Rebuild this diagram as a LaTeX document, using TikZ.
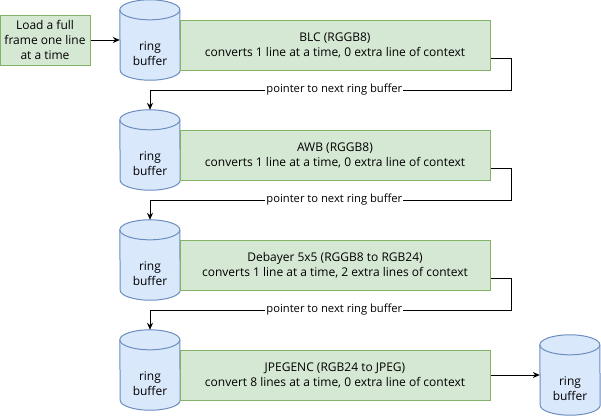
\documentclass[tikz,border=0pt]{standalone}
\usepackage{fontspec}
\setmainfont{Open Sans}
\usetikzlibrary{arrows.meta, calc}

\definecolor{stagefill}{HTML}{D5E8D4}
\definecolor{stageline}{HTML}{82B366}
\definecolor{buffill}{HTML}{DAE8FC}
\definecolor{bufline}{HTML}{6C8EBF}

\tikzset{
  stage/.style={draw=stageline, fill=stagefill, line width=1pt, align=center,
    minimum width=310pt, minimum height=50pt, inner sep=0pt,
    font=\fontsize{12}{15}\selectfont},
  ringbox/.style={rectangle, minimum width=60pt, minimum height=80pt, inner sep=0pt},
  bufshape/.style={draw=bufline, fill=buffill, line width=1pt},
  buftext/.style={align=center, inner sep=0pt, font=\fontsize{12}{15}\selectfont},
  link/.style={-{Stealth[length=7pt,width=6pt]}, line width=1pt},
  lbl/.style={fill=white, inner sep=1pt, font=\fontsize{11.2}{13}\selectfont}
}

% ring buffer cylinder: name, centre
\newcommand{\ringbuf}[2]{%
  \node[ringbox] (#1) at (#2) {};
  \filldraw[bufshape] ([yshift=-10pt]#1.north west) arc[start angle=180, end angle=0, x radius=30pt, y radius=10pt]
    -- ([yshift=10pt]#1.south east) arc[start angle=0, end angle=-180, x radius=30pt, y radius=10pt] -- cycle;
  \draw[bufshape, fill=none] ([yshift=-10pt]#1.north west) arc[start angle=180, end angle=360, x radius=30pt, y radius=10pt];
  \node[buftext] (#1-txt) at ([yshift=-13.5pt]#1.center) {ring\\buffer};
}

\begin{document}
\begin{tikzpicture}[x=1pt, y=-1pt]
\useasboundingbox (0,0) rectangle (601,416);

% Source
\node[stage, minimum width=90pt] (load) at (45,40) {Load a full\\frame one line\\at a time};

% Ring buffers
\ringbuf{rb1}{150,40}
\ringbuf{rb2}{150,150}
\ringbuf{rb3}{150,260}
\ringbuf{rb4}{150,370}
\ringbuf{rb5}{570,375}

% Processing stages
\node[stage] (blc) at (335,45) {BLC (RGGB8)\\converts 1 line at a time, 0 extra line of context};
\node[stage] (awb) at (335,155) {AWB (RGGB8)\\converts 1 line at a time, 0 extra line of context};
\node[stage] (debayer) at (335,265) {Debayer 5x5 (RGGB8 to RGB24)\\converts 1 line at a time, 2 extra lines of context};
\node[stage] (jpeg) at (335,375) {JPEGENC (RGB24 to JPEG)\\convert 8 lines at a time, 0 extra line of context};

% Connectors
\draw[link] (load) -- (rb1);
\draw[link] ([yshift=-13pt]blc.east) -- ++(21,0) -- ++(0,32) -| node[pos=0.245, lbl] {pointer to next ring buffer} (rb2.north);
\draw[link] ([yshift=-13pt]awb.east) -- ++(21,0) -- ++(0,32) -| node[pos=0.245, lbl] {pointer to next ring buffer} (rb3.north);
\draw[link] ([yshift=-13pt]debayer.east) -- ++(21,0) -- ++(0,32) -| node[pos=0.245, lbl] {pointer to next ring buffer} (rb4.north);
\draw[link] (jpeg) -- (rb5);
\end{tikzpicture}
\end{document}
